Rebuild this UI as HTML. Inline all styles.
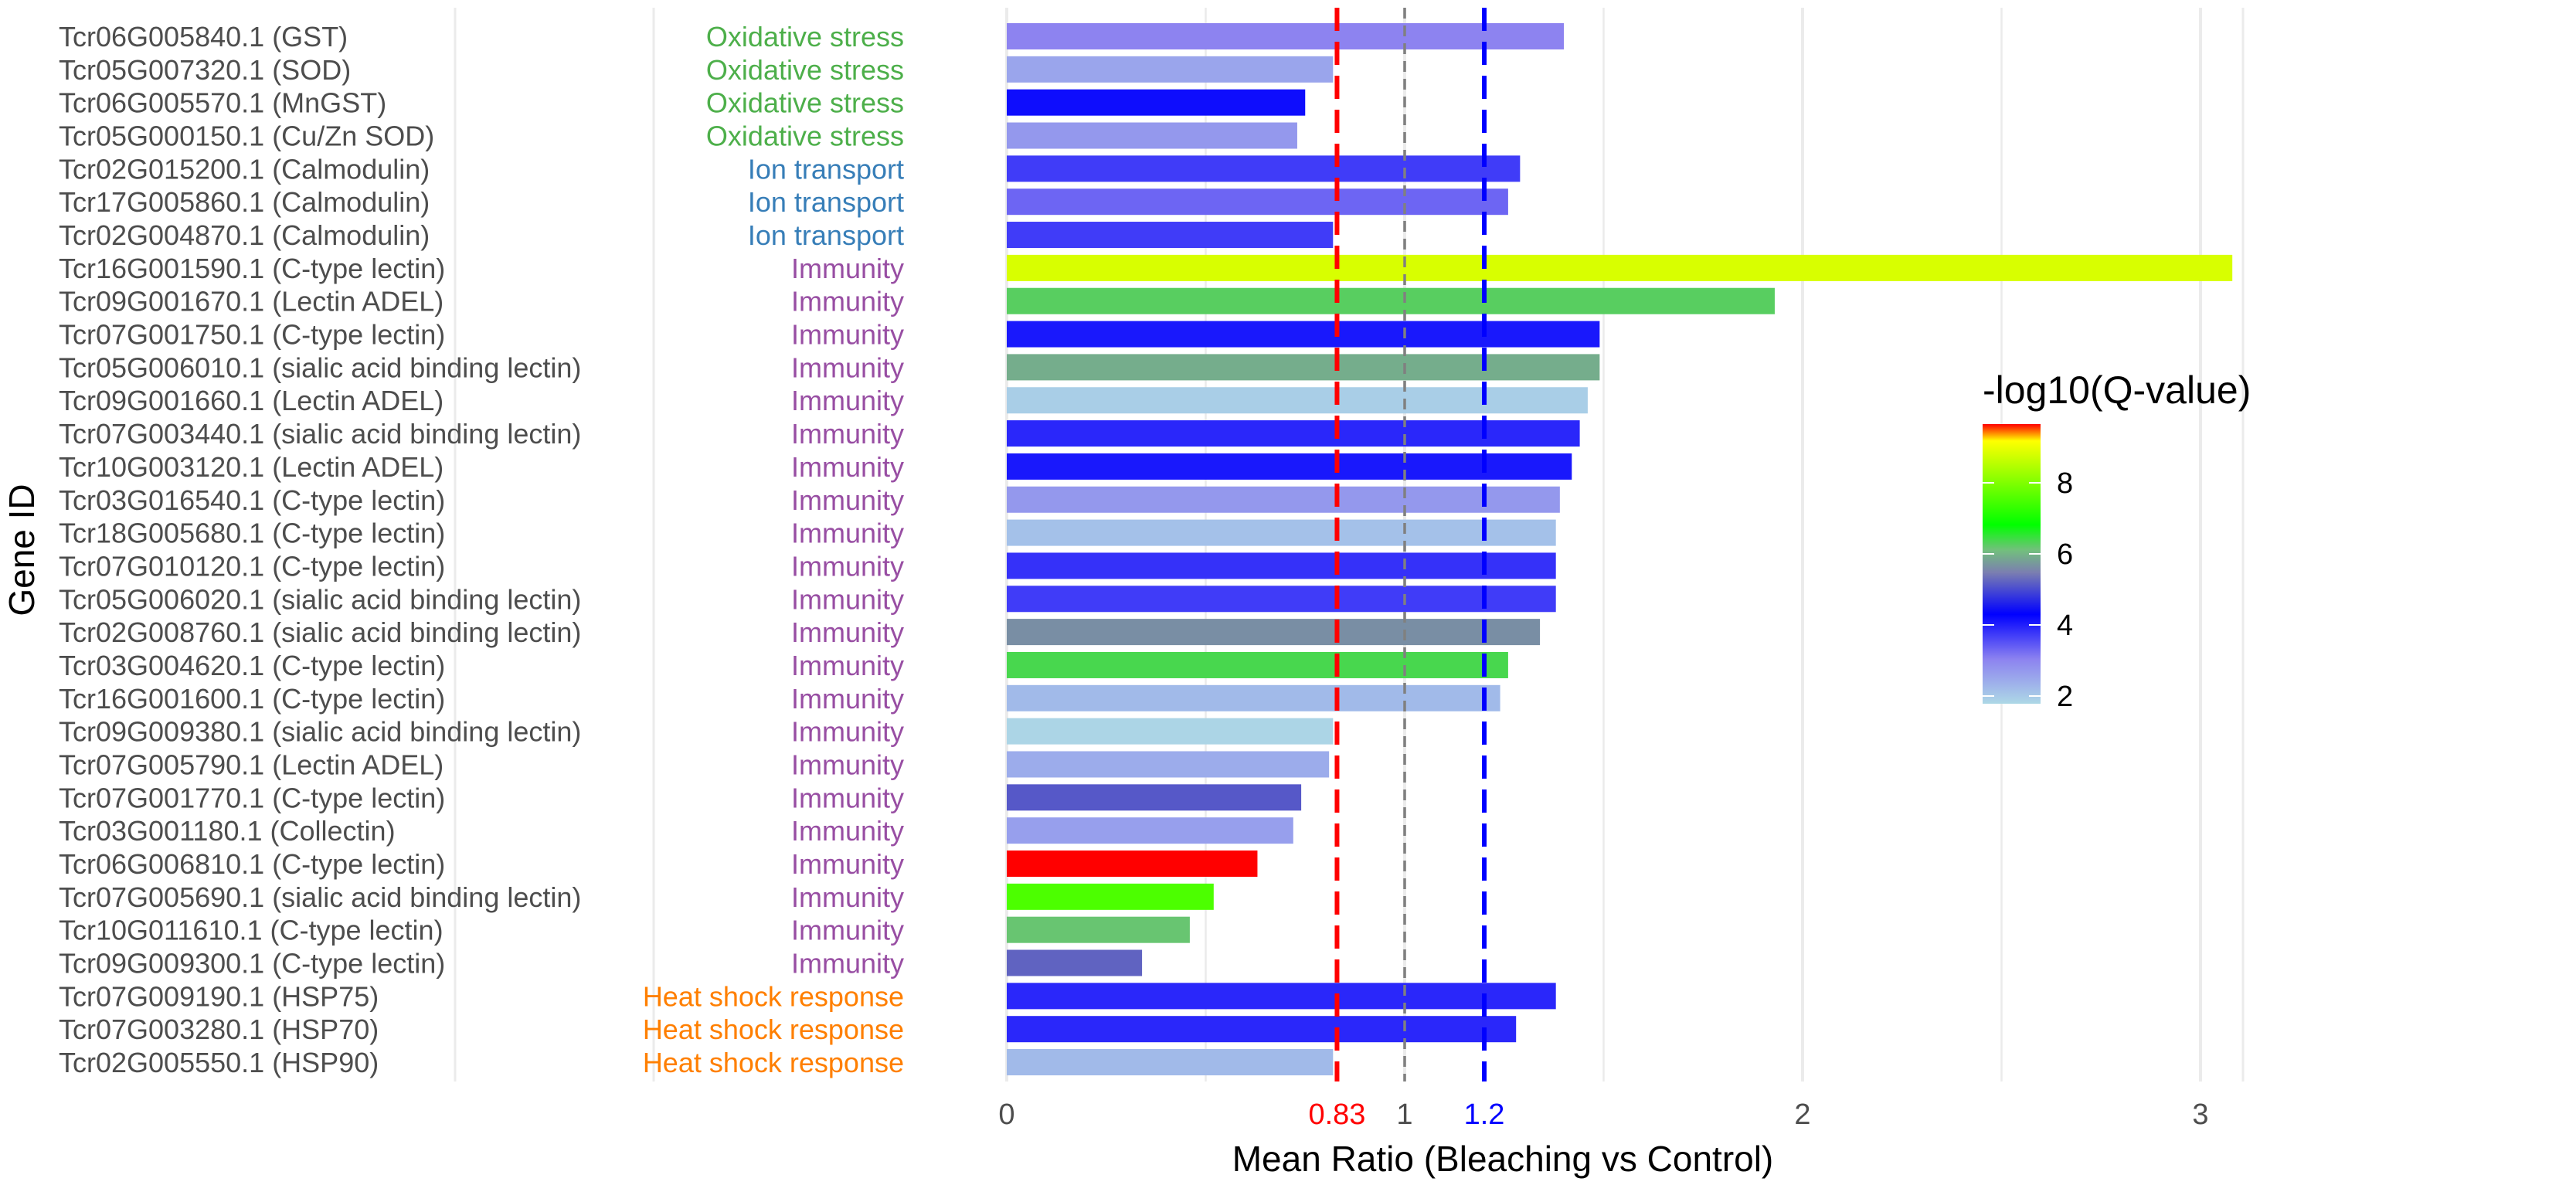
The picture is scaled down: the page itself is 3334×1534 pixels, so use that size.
<!DOCTYPE html>
<html><head><meta charset="utf-8"><style>
html,body{margin:0;padding:0;background:#fff;}
svg{display:block;font-family:"Liberation Sans",Arial,sans-serif;}
</style></head><body>
<svg id="chart" width="3334" height="1534" viewBox="0 0 3334 1534" xmlns="http://www.w3.org/2000/svg">
<defs>
<linearGradient id="cbar" x1="0" y1="1" x2="0" y2="0">
<stop offset="0" stop-color="#add8e6"/>
<stop offset="0.16" stop-color="#8c82f0"/>
<stop offset="0.32" stop-color="#0000ff"/>
<stop offset="0.47" stop-color="#7b7fb0"/>
<stop offset="0.55" stop-color="#72c07c"/>
<stop offset="0.64" stop-color="#00ff00"/>
<stop offset="0.94" stop-color="#ffff00"/>
<stop offset="1" stop-color="#ff0000"/>
</linearGradient>
</defs>
<g id="grid"></g>
<g id="bars"></g>
<g id="refs"></g>
<g id="labels"></g>
<text x="1945" y="1516" font-size="46" text-anchor="middle" fill="#000">Mean Ratio (Bleaching vs Control)</text>
<text x="0" y="0" font-size="46" text-anchor="middle" fill="#000" transform="translate(44,712) rotate(-90)">Gene ID</text>
<g>
<text x="2566" y="522" font-size="50" fill="#000">-log10(Q-value)</text>
<rect x="2566" y="549" width="75" height="362" fill="url(#cbar)"/>
<g id="legendticks"></g>
</g>
</svg>
<script>
const genes = ["Tcr06G005840.1 (GST)","Tcr05G007320.1 (SOD)","Tcr06G005570.1 (MnGST)","Tcr05G000150.1 (Cu/Zn SOD)","Tcr02G015200.1 (Calmodulin)","Tcr17G005860.1 (Calmodulin)","Tcr02G004870.1 (Calmodulin)","Tcr16G001590.1 (C-type lectin)","Tcr09G001670.1 (Lectin ADEL)","Tcr07G001750.1 (C-type lectin)","Tcr05G006010.1 (sialic acid binding lectin)","Tcr09G001660.1 (Lectin ADEL)","Tcr07G003440.1 (sialic acid binding lectin)","Tcr10G003120.1 (Lectin ADEL)","Tcr03G016540.1 (C-type lectin)","Tcr18G005680.1 (C-type lectin)","Tcr07G010120.1 (C-type lectin)","Tcr05G006020.1 (sialic acid binding lectin)","Tcr02G008760.1 (sialic acid binding lectin)","Tcr03G004620.1 (C-type lectin)","Tcr16G001600.1 (C-type lectin)","Tcr09G009380.1 (sialic acid binding lectin)","Tcr07G005790.1 (Lectin ADEL)","Tcr07G001770.1 (C-type lectin)","Tcr03G001180.1 (Collectin)","Tcr06G006810.1 (C-type lectin)","Tcr07G005690.1 (sialic acid binding lectin)","Tcr10G011610.1 (C-type lectin)","Tcr09G009300.1 (C-type lectin)","Tcr07G009190.1 (HSP75)","Tcr07G003280.1 (HSP70)","Tcr02G005550.1 (HSP90)"];
const categories = ["Oxidative stress","Oxidative stress","Oxidative stress","Oxidative stress","Ion transport","Ion transport","Ion transport","Immunity","Immunity","Immunity","Immunity","Immunity","Immunity","Immunity","Immunity","Immunity","Immunity","Immunity","Immunity","Immunity","Immunity","Immunity","Immunity","Immunity","Immunity","Immunity","Immunity","Immunity","Immunity","Heat shock response","Heat shock response","Heat shock response"];
const ratios = [1.40,0.82,0.75,0.73,1.29,1.26,0.82,3.08,1.93,1.49,1.49,1.46,1.44,1.42,1.39,1.38,1.38,1.38,1.34,1.26,1.24,0.82,0.81,0.74,0.72,0.63,0.52,0.46,0.34,1.38,1.28,0.82];
const qvals = [3.0,2.5,4.15,2.7,3.7,3.3,3.7,8.8,6.25,4.05,5.9,1.9,3.9,4.05,2.7,2.1,3.8,3.7,5.6,6.35,2.2,1.8,2.4,5.1,2.6,9.63,7.5,6.15,5.2,3.9,3.9,2.2];
const xTicks = [0,0.83,1,1.2,2,3];
const xTickLabels = ["0","0.83","1","1.2","2","3"];
const legendTicks = [2,4,6,8];
const catColors = {"Oxidative stress":"#4daf4a","Ion transport":"#377eb8","Immunity":"#984ea3","Heat shock response":"#ff7f00"};

const NS="http://www.w3.org/2000/svg";
const X0=1303, UNIT=515;
const x = v => X0 + v*UNIT;
const ROW0=47, ROWSTEP=42.84;
const y = i => ROW0 + i*ROWSTEP;
const BARH=34;
const QMIN=1.76, QMAX=9.63;
const stops=[[0,[173,216,230]],[0.16,[140,130,240]],[0.32,[0,0,255]],[0.47,[123,127,176]],[0.55,[114,192,124]],[0.64,[0,255,0]],[0.94,[255,255,0]],[1,[255,0,0]]];
function qcolor(q){
  let t=(q-QMIN)/(QMAX-QMIN); t=Math.max(0,Math.min(1,t));
  for(let k=1;k<stops.length;k++){
    if(t<=stops[k][0]){
      const a=stops[k-1],b=stops[k],f=(t-a[0])/(b[0]-a[0]);
      const c=a[1].map((v,j)=>Math.round(v+(b[1][j]-v)*f));
      return `rgb(${c[0]},${c[1]},${c[2]})`;
    }
  }
  return "rgb(255,0,0)";
}
function mk(tag,attrs,parent){const e=document.createElementNS(NS,tag);for(const k in attrs)e.setAttribute(k,attrs[k]);parent.appendChild(e);return e;}

const grid=document.getElementById('grid');
[[589,3],[846,3],[2903,3]].forEach(g=>{
  const l=mk('line',{x1:g[0],x2:g[0],y1:10,y2:1400,stroke:'#ebebeb','stroke-width':g[1]},grid);
  
  
});
[0,0.5,1,1.5,2,2.5,3].forEach(v=>{
  const l=mk('line',{x1:x(v),x2:x(v),y1:10,y2:1400,stroke:'#ebebeb','stroke-width':(v%1===0)?4:2.5},grid);
  
  
});

const bars=document.getElementById('bars');
ratios.forEach((r,i)=>{
  const b=mk('rect',{x:x(0),y:y(i)-BARH/2,width:x(r)-x(0),height:BARH,fill:qcolor(qvals[i])},bars);
  
  
});

const refs=document.getElementById('refs');
const r1=mk('line',{x1:x(0.83),x2:x(0.83),y1:10,y2:1400,stroke:'#ff0000','stroke-width':6,'stroke-dasharray':'30 14'},refs);


const r2=mk('line',{x1:x(1),x2:x(1),y1:10,y2:1400,stroke:'#808080','stroke-width':3.5,'stroke-dasharray':'14 9'},refs);


const r3=mk('line',{x1:x(1.2),x2:x(1.2),y1:10,y2:1400,stroke:'#0000ff','stroke-width':6,'stroke-dasharray':'30 14'},refs);



const labels=document.getElementById('labels');
genes.forEach((g,i)=>{
  const t=mk('text',{x:76,y:y(i)+13,'font-size':36,fill:'#4d4d4d'},labels);
  t.textContent=g;
  
  
  const c=mk('text',{x:1170,y:y(i)+13,'font-size':36,fill:catColors[categories[i]],'text-anchor':'end'},labels);
  c.textContent=categories[i];
  
  
});
const tickCol={"0.83":"#ff0000","1.2":"#0000ff"};
xTicks.forEach((v,i)=>{
  const t=mk('text',{x:x(v),y:1455,'font-size':38,'text-anchor':'middle',fill:tickCol[xTickLabels[i]]||'#4d4d4d'},labels);
  t.textContent=xTickLabels[i];
  
  
});

const lt=document.getElementById('legendticks');
const ly = q => 901 - (q-2)*46;
legendTicks.forEach(q=>{
  const a=mk('line',{x1:2566,x2:2581,y1:ly(q),y2:ly(q),stroke:'#fff','stroke-width':2},lt);
  
  
  const b=mk('line',{x1:2626,x2:2641,y1:ly(q),y2:ly(q),stroke:'#fff','stroke-width':2},lt);
  
  
  const t=mk('text',{x:2662,y:ly(q)+13,'font-size':38,fill:'#000'},lt);
  t.textContent=String(q);
  
  
});
</script>
</body></html>
